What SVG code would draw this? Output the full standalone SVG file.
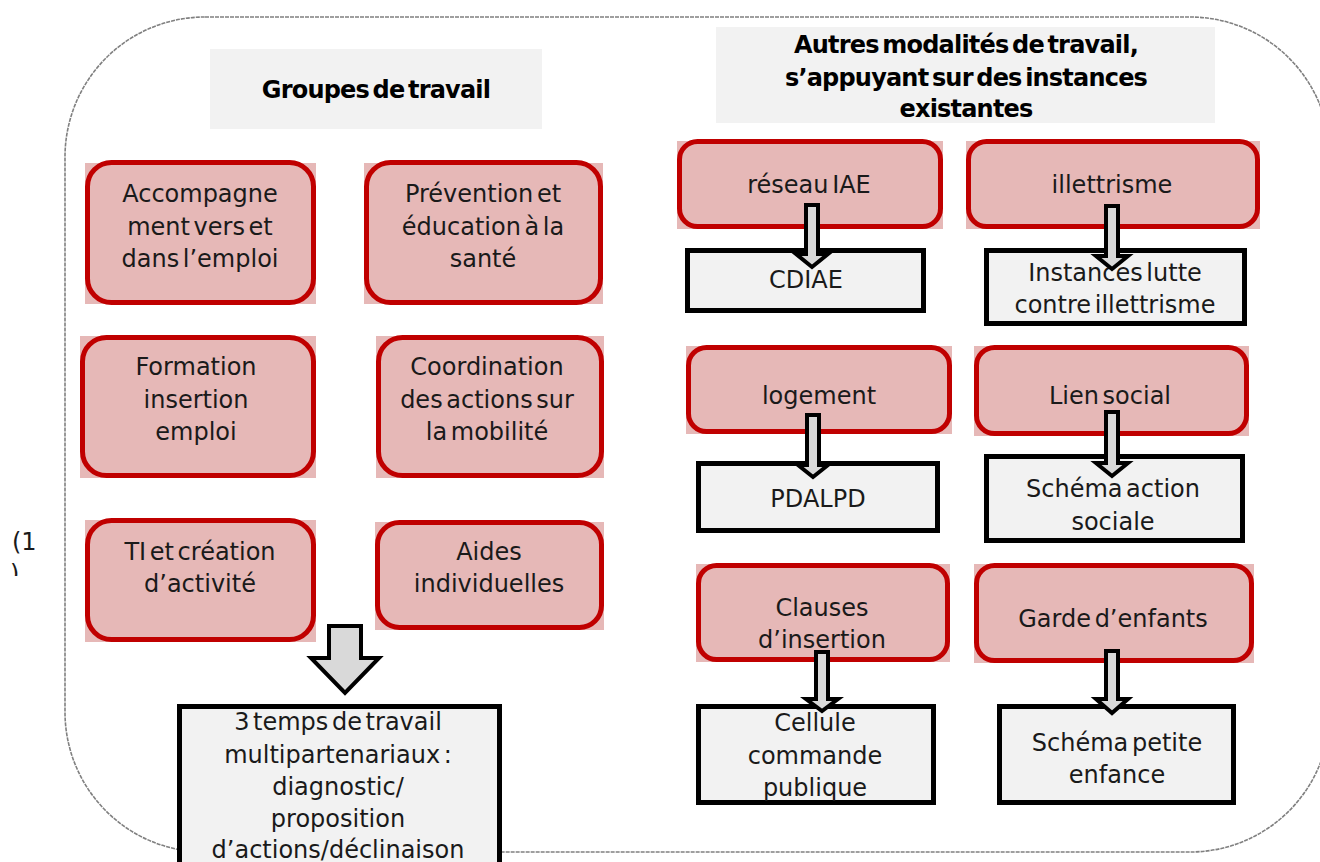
<svg xmlns="http://www.w3.org/2000/svg" width="1320" height="862" viewBox="0 0 1320 862">
<style>
.t{font-family:"DejaVu Sans","Liberation Sans",sans-serif;font-size:24px;fill:#1a1a1a;text-anchor:middle;word-spacing:-4px}
.h{font-family:"DejaVu Sans","Liberation Sans",sans-serif;font-size:24px;font-weight:bold;fill:#000;text-anchor:middle;word-spacing:-4px;letter-spacing:-0.8px}
.pk{fill:#e6b8b7}
.rb{fill:#e6b8b7;stroke:#c00000;stroke-width:5}
.gb{fill:#f2f2f2;stroke:#000;stroke-width:5}
.hd{fill:#f2f2f2}
.ar{fill:#d9d9d9;stroke:#000;stroke-width:4;stroke-linejoin:miter}
</style>
<defs>
<clipPath id="cp"><rect x="0" y="555" width="60" height="21"/></clipPath>
</defs>
<rect width="1320" height="862" fill="#fff"/>
<rect id="frame" x="65" y="17" width="1265" height="835" rx="140" ry="140" fill="none" stroke="#808080" stroke-width="1.6" stroke-dasharray="4 1"/>
<text class="t" x="12" y="550" style="text-anchor:start">(1</text>
<text class="t" x="10" y="582" clip-path="url(#cp)" style="text-anchor:start">)</text>

<g id="hdr-groupes"><rect class="hd" x="210" y="49" width="332" height="80"/><text class="h" x="376" y="98">Groupes de travail</text></g>
<g id="hdr-autres"><rect class="hd" x="716" y="27" width="499" height="96"/>
<text class="h" x="966" y="53">Autres modalités de travail,</text>
<text class="h" x="966" y="86">s’appuyant sur des instances</text>
<text class="h" x="966" y="117">existantes</text></g>

<g id="n-accomp"><rect class="pk" x="85" y="163" width="231" height="141"/><rect class="rb" x="87.5" y="162.5" width="226" height="140" rx="24"/>
<text class="t" x="200" y="202">Accompagne</text><text class="t" x="200" y="235">ment vers et</text><text class="t" x="200" y="267">dans l’emploi</text></g>
<g id="n-prev"><rect class="pk" x="364" y="163" width="239" height="141"/><rect class="rb" x="366.5" y="162.5" width="234" height="140" rx="24"/>
<text class="t" x="483" y="202">Prévention et</text><text class="t" x="483" y="235">éducation à la</text><text class="t" x="483" y="267">santé</text></g>
<g id="n-form"><rect class="pk" x="80" y="336" width="236" height="142"/><rect class="rb" x="82.5" y="337.5" width="231" height="138" rx="24"/>
<text class="t" x="196" y="375">Formation</text><text class="t" x="196" y="408">insertion</text><text class="t" x="196" y="440">emploi</text></g>
<g id="n-coord"><rect class="pk" x="376" y="336" width="228" height="142"/><rect class="rb" x="378.5" y="337.5" width="223" height="138" rx="24"/>
<text class="t" x="487" y="375">Coordination</text><text class="t" x="487" y="408">des actions sur</text><text class="t" x="487" y="440">la mobilité</text></g>
<g id="n-ti"><rect class="pk" x="85" y="520" width="231" height="122"/><rect class="rb" x="87.5" y="520.5" width="226" height="119" rx="24"/>
<text class="t" x="200" y="560">TI et création</text><text class="t" x="200" y="592">d’activité</text></g>
<g id="n-aides"><rect class="pk" x="375" y="522" width="229" height="108"/><rect class="rb" x="377.5" y="522.5" width="224" height="105" rx="22"/>
<text class="t" x="489" y="560">Aides</text><text class="t" x="489" y="592">individuelles</text></g>
<g id="n-3temps"><rect class="gb" x="179.5" y="706.5" width="320" height="180"/>
<text class="t" x="338" y="730">3 temps de travail</text><text class="t" x="338" y="763">multipartenariaux :</text><text class="t" x="338" y="795">diagnostic/</text><text class="t" x="338" y="827">proposition</text><text class="t" x="338" y="858">d’actions/déclinaison</text></g>

<g id="n-iae"><rect class="pk" x="677" y="141" width="266" height="88"/><rect class="rb" x="679.5" y="141.5" width="261" height="85" rx="18"/><text class="t" x="809" y="193">réseau IAE</text></g>
<g id="n-illet"><rect class="pk" x="966" y="141" width="294" height="88"/><rect class="rb" x="968.5" y="141.5" width="289" height="85" rx="18"/><text class="t" x="1112" y="193">illettrisme</text></g>
<g id="n-cdiae"><rect class="gb" x="687.5" y="250.5" width="236" height="60"/><text class="t" x="806" y="288">CDIAE</text></g>
<g id="n-instances"><rect class="gb" x="986.5" y="250.5" width="258" height="73"/><text class="t" x="1115" y="281">Instances lutte</text><text class="t" x="1115" y="313">contre illettrisme</text></g>

<g id="n-logement"><rect class="pk" x="686" y="346" width="266" height="88"/><rect class="rb" x="688.5" y="347.5" width="261" height="84" rx="18"/><text class="t" x="819" y="404">logement</text></g>
<g id="n-lien"><rect class="pk" x="974" y="346" width="275" height="90"/><rect class="rb" x="976.5" y="347.5" width="270" height="86" rx="18"/><text class="t" x="1110" y="404">Lien social</text></g>
<g id="n-pdalpd"><rect class="gb" x="698.5" y="463.5" width="239" height="67"/><text class="t" x="818" y="507">PDALPD</text></g>
<g id="n-schema-as"><rect class="gb" x="986.5" y="456.5" width="256" height="84"/><text class="t" x="1113" y="497">Schéma action</text><text class="t" x="1113" y="530">sociale</text></g>

<g id="n-clauses"><rect class="pk" x="696" y="564" width="254" height="98"/><rect class="rb" x="698.5" y="565.5" width="249" height="94" rx="18"/><text class="t" x="822" y="616">Clauses</text><text class="t" x="822" y="648">d’insertion</text></g>
<g id="n-garde"><rect class="pk" x="974" y="564" width="280" height="99"/><rect class="rb" x="976.5" y="565.5" width="275" height="95" rx="18"/><text class="t" x="1113" y="627">Garde d’enfants</text></g>
<g id="n-cellule"><rect class="gb" x="698.5" y="706.5" width="235" height="96"/><text class="t" x="815" y="731">Cellule</text><text class="t" x="815" y="764">commande</text><text class="t" x="815" y="796">publique</text></g>
<g id="n-schema-pe"><rect class="gb" x="999.5" y="706.5" width="234" height="96"/><text class="t" x="1117" y="751">Schéma petite</text><text class="t" x="1117" y="783">enfance</text></g>

<g id="connectors">
<polygon class="ar" points="329,626 361,626 361,658 379,658 345,693 311,658 329,658"/>
<polygon class="ar" points="806,205 818,205 818,254 828,254 812,267 796,254 806,254"/>
<polygon class="ar" points="1106,206 1118,206 1118,256 1128,256 1112,269 1096,256 1106,256"/>
<polygon class="ar" points="807,415 819,415 819,465 828,465 813,477 798,465 807,465"/>
<polygon class="ar" points="1106,412 1118,412 1118,463 1128,463 1112,476 1096,463 1106,463"/>
<polygon class="ar" points="816,652 828,652 828,699 838,699 822,711 806,699 816,699"/>
<polygon class="ar" points="1106,651 1118,651 1118,699 1128,699 1112,713 1096,699 1106,699"/>
</g>
</svg>
